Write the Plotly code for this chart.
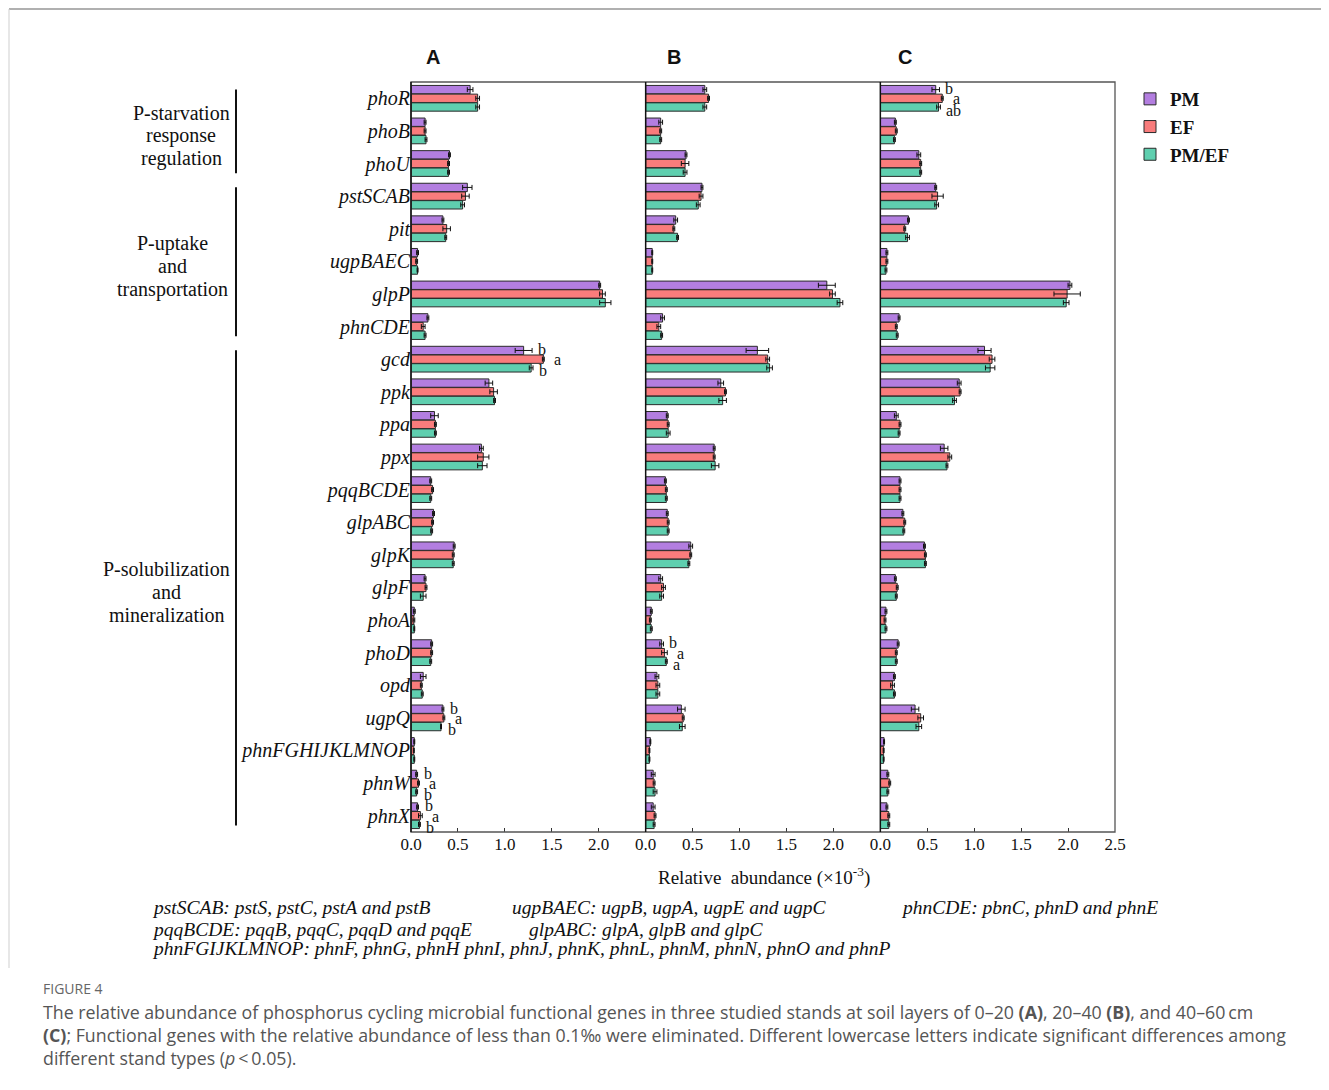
import plotly.graph_objects as go

genes = ["phoR", "phoB", "phoU", "pstSCAB", "pit", "ugpBAEC", "glpP", "phnCDE",
         "gcd", "ppk", "ppa", "ppx", "pqqBCDE", "glpABC", "glpK", "glpF", "phoA",
         "phoD", "opd", "ugpQ", "phnFGHIJKLMNOP", "phnW", "phnX"]
groups = ["PM", "EF", "PM/EF"]
panels = ["A", "B", "C"]

# Panel A (0-20 cm)
A_PM   = [0.63, 0.15, 0.41, 0.60, 0.34, 0.07, 2.01, 0.18, 1.20, 0.83, 0.25, 0.75, 0.21, 0.24, 0.46, 0.15, 0.035, 0.22, 0.13, 0.34, 0.035, 0.06, 0.07]
A_EF   = [0.71, 0.15, 0.40, 0.58, 0.38, 0.06, 2.04, 0.13, 1.41, 0.88, 0.26, 0.77, 0.23, 0.23, 0.45, 0.16, 0.03, 0.22, 0.11, 0.35, 0.03, 0.08, 0.10]
A_PMEF = [0.71, 0.16, 0.40, 0.55, 0.37, 0.07, 2.07, 0.15, 1.28, 0.89, 0.26, 0.76, 0.21, 0.22, 0.45, 0.13, 0.035, 0.21, 0.12, 0.32, 0.035, 0.06, 0.09]
A_PM_err   = [0.03, 0.01, 0.01, 0.05, 0.01, 0.01, 0.01, 0.01, 0.09, 0.04, 0.04, 0.02, 0.01, 0.01, 0.01, 0.01, 0.01, 0.01, 0.03, 0.01, 0.005, 0.01, 0.01]
A_EF_err   = [0.02, 0.01, 0.01, 0.04, 0.04, 0.01, 0.03, 0.02, 0.01, 0.04, 0.01, 0.06, 0.01, 0.01, 0.01, 0.01, 0.01, 0.01, 0.01, 0.01, 0.005, 0.01, 0.02]
A_PMEF_err = [0.02, 0.01, 0.01, 0.02, 0.01, 0.005, 0.06, 0.01, 0.02, 0.01, 0.01, 0.05, 0.01, 0.01, 0.01, 0.03, 0.005, 0.01, 0.01, 0.005, 0.005, 0.01, 0.01]

# Panel B (20-40 cm)
B_PM   = [0.63, 0.16, 0.43, 0.60, 0.32, 0.07, 1.93, 0.18, 1.19, 0.80, 0.23, 0.73, 0.21, 0.23, 0.48, 0.16, 0.06, 0.17, 0.12, 0.38, 0.05, 0.08, 0.08]
B_EF   = [0.67, 0.16, 0.42, 0.59, 0.30, 0.07, 1.99, 0.14, 1.30, 0.85, 0.24, 0.73, 0.22, 0.24, 0.48, 0.19, 0.05, 0.20, 0.13, 0.40, 0.04, 0.09, 0.10]
B_PMEF = [0.63, 0.16, 0.42, 0.56, 0.34, 0.07, 2.07, 0.17, 1.32, 0.82, 0.24, 0.74, 0.22, 0.24, 0.46, 0.17, 0.06, 0.22, 0.13, 0.39, 0.04, 0.10, 0.09]
B_PM_err   = [0.02, 0.02, 0.01, 0.01, 0.02, 0.005, 0.09, 0.02, 0.12, 0.03, 0.01, 0.01, 0.01, 0.01, 0.02, 0.02, 0.01, 0.02, 0.02, 0.04, 0.005, 0.02, 0.02]
B_EF_err   = [0.01, 0.01, 0.04, 0.02, 0.01, 0.005, 0.03, 0.02, 0.02, 0.01, 0.01, 0.01, 0.01, 0.01, 0.01, 0.02, 0.01, 0.03, 0.02, 0.01, 0.005, 0.01, 0.01]
B_PMEF_err = [0.02, 0.01, 0.02, 0.02, 0.01, 0.005, 0.03, 0.01, 0.03, 0.04, 0.02, 0.04, 0.01, 0.01, 0.01, 0.02, 0.01, 0.01, 0.02, 0.03, 0.005, 0.02, 0.01]

# Panel C (40-60 cm)
C_PM   = [0.59, 0.16, 0.41, 0.59, 0.30, 0.07, 2.02, 0.20, 1.11, 0.84, 0.17, 0.68, 0.21, 0.24, 0.47, 0.16, 0.06, 0.19, 0.15, 0.37, 0.04, 0.08, 0.07]
C_EF   = [0.66, 0.17, 0.43, 0.61, 0.26, 0.07, 1.99, 0.17, 1.19, 0.85, 0.21, 0.74, 0.21, 0.26, 0.48, 0.18, 0.05, 0.17, 0.13, 0.43, 0.035, 0.10, 0.09]
C_PMEF = [0.62, 0.15, 0.43, 0.60, 0.29, 0.06, 1.98, 0.18, 1.17, 0.79, 0.20, 0.71, 0.21, 0.25, 0.48, 0.17, 0.06, 0.17, 0.15, 0.41, 0.035, 0.08, 0.09]
C_PM_err   = [0.04, 0.01, 0.02, 0.01, 0.01, 0.01, 0.02, 0.01, 0.07, 0.02, 0.02, 0.04, 0.01, 0.01, 0.01, 0.01, 0.01, 0.01, 0.01, 0.04, 0.005, 0.01, 0.01]
C_EF_err   = [0.01, 0.01, 0.01, 0.06, 0.01, 0.01, 0.14, 0.01, 0.03, 0.01, 0.01, 0.02, 0.01, 0.01, 0.01, 0.01, 0.01, 0.01, 0.02, 0.03, 0.005, 0.01, 0.01]
C_PMEF_err = [0.02, 0.01, 0.01, 0.02, 0.02, 0.01, 0.03, 0.01, 0.05, 0.02, 0.01, 0.01, 0.01, 0.01, 0.01, 0.01, 0.01, 0.01, 0.01, 0.03, 0.005, 0.01, 0.01]

# significance letters: (panel, gene, group, letter)
sig_letters = [
    ("A", "gcd", "PM", "b"), ("A", "gcd", "EF", "a"), ("A", "gcd", "PM/EF", "b"),
    ("A", "ugpQ", "PM", "b"), ("A", "ugpQ", "EF", "a"), ("A", "ugpQ", "PM/EF", "b"),
    ("A", "phnW", "PM", "b"), ("A", "phnW", "EF", "a"), ("A", "phnW", "PM/EF", "b"),
    ("A", "phnX", "PM", "b"), ("A", "phnX", "EF", "a"), ("A", "phnX", "PM/EF", "b"),
    ("B", "phoD", "PM", "b"), ("B", "phoD", "EF", "a"), ("B", "phoD", "PM/EF", "a"),
    ("C", "phoR", "PM", "b"), ("C", "phoR", "EF", "a"), ("C", "phoR", "PM/EF", "ab"),
]

group_labels = [["P-starvation", "response", "regulation"],
                ["P-uptake", "and", "transportation"],
                ["P-solubilization", "and", "mineralization"]]
group_spans = [("phoR", "phoU"), ("pstSCAB", "phnCDE"), ("gcd", "phnX")]

footnotes = [
    "pstSCAB: pstS, pstC, pstA and pstB",
    "ugpBAEC: ugpB, ugpA, ugpE and ugpC",
    "phnCDE: pbnC, phnD and phnE",
    "pqqBCDE: pqqB, pqqC, pqqD and pqqE",
    "glpABC: glpA, glpB and glpC",
    "phnFGIJKLMNOP: phnF, phnG, phnH phnI, phnJ, phnK, phnL, phnM, phnN, phnO and phnP",
]

caption = ("The relative abundance of phosphorus cycling microbial functional genes in three studied stands at soil layers of 0\u201320 <b>(A)</b>, 20\u201340 <b>(B)</b>, and 40\u201360\u2009cm<br>"
           "<b>(C)</b>; Functional genes with the relative abundance of less than 0.1\u2030 were eliminated. Different lowercase letters indicate significant differences among<br>"
           "different stand types (<i>p</i>\u2009&lt;\u20090.05).")

data = {
    "A": [(A_PM, A_PM_err), (A_EF, A_EF_err), (A_PMEF, A_PMEF_err)],
    "B": [(B_PM, B_PM_err), (B_EF, B_EF_err), (B_PMEF, B_PMEF_err)],
    "C": [(C_PM, C_PM_err), (C_EF, C_EF_err), (C_PMEF, C_PMEF_err)],
}
colors = ["#b37ee0", "#f97c7c", "#5fcfaf"]
axis_ids = {"A": "x", "B": "x2", "C": "x3"}
SERIF = "Liberation Serif"

fig = go.Figure()
ypos = list(range(len(genes)))
for p in panels:
    for gi, g in enumerate(groups):
        vals, errs = data[p][gi]
        fig.add_trace(go.Bar(
            x=vals, y=ypos, orientation="h", name=f"<b>{g}</b>",
            marker=dict(color=colors[gi], line=dict(color="#2a2a2a", width=1)),
            error_x=dict(type="data", array=errs, visible=True, color="#111",
                         thickness=1, width=2.5),
            xaxis=axis_ids[p], yaxis="y", showlegend=(p == "A"),
        ))

# page body has an 8px margin: work in reference-screen pixels and convert
OFF = 8
FW, FH = 1329 - 2 * OFF, 1090 - 2 * OFF
PL, PR, PT, PB = 411, 1115, 82, 832  # plot area in reference-screen pixels
ML, MT = PL - OFF, PT - OFF
MR, MB = FW - (PR - OFF), FH - (PB - OFF)
PW, PH = PR - PL, PB - PT


def px2x(px):
    return (px - PL) / PW


def px2y(py):
    return (PB - py) / PH


third = 1 / 3
doms = [[0, third], [third, 2 * third], [2 * third, 1]]
tickcommon = dict(range=[0, 2.5], ticks="inside", ticklen=4, tickcolor="#333",
                  showgrid=False, zeroline=False, showline=False,
                  tickfont=dict(family=SERIF, size=17, color="#111"))
fig.update_layout(
    xaxis=dict(domain=doms[0], anchor="y", tickvals=[0, 0.5, 1, 1.5, 2],
               ticktext=["0.0", "0.5", "1.0", "1.5", "2.0"], **tickcommon),
    xaxis2=dict(domain=doms[1], anchor="y", tickvals=[0, 0.5, 1, 1.5, 2],
                ticktext=["0.0", "0.5", "1.0", "1.5", "2.0"], **tickcommon),
    xaxis3=dict(domain=doms[2], anchor="y", tickvals=[0, 0.5, 1, 1.5, 2, 2.5],
                ticktext=["0.0", "0.5", "1.0", "1.5", "2.0", "2.5"], **tickcommon),
    yaxis=dict(range=[len(genes) - 0.5, -0.5], tickvals=ypos,
               ticktext=[f"<i>{g}</i>" for g in genes], ticks="",
               showgrid=False, zeroline=False, showline=False,
               tickfont=dict(family=SERIF, size=20, color="#111")),
    barmode="group", bargap=0.2, bargroupgap=0.04,
    width=FW, height=FH,
    margin=dict(l=ML, r=MR, t=MT, b=MB),
    paper_bgcolor="white", plot_bgcolor="white",
    legend=dict(x=px2x(1130), y=px2y(80), xanchor="left", yanchor="top",
                font=dict(family=SERIF, size=19, color="#111"),
                tracegroupgap=0, itemwidth=30, bgcolor="rgba(0,0,0,0)"),
    showlegend=True,
)

shapes = []
# plot frame
shapes.append(dict(type="rect", xref="paper", yref="paper", x0=0, x1=1, y0=0, y1=1,
                   line=dict(color="#555", width=1.3)))
shapes.append(dict(type="line", xref="paper", yref="paper", x0=0, x1=0, y0=0, y1=1,
                   line=dict(color="#111", width=1.5)))
for d in [third, 2 * third]:
    shapes.append(dict(type="line", xref="paper", yref="paper", x0=d, x1=d, y0=0, y1=1,
                       line=dict(color="#111", width=1.5)))
# group brackets
for (g0, g1) in group_spans:
    i0, i1 = genes.index(g0), genes.index(g1)
    shapes.append(dict(type="line", xref="paper", yref="y", x0=px2x(236), x1=px2x(236),
                       y0=i0 - 0.27, y1=i1 + 0.3, line=dict(color="#111", width=2)))
# page decoration lines
shapes.append(dict(type="line", xref="paper", yref="paper", x0=px2x(9), x1=px2x(1329),
                   y0=px2y(9), y1=px2y(9), line=dict(color="#b0b0b0", width=2)))
shapes.append(dict(type="line", xref="paper", yref="paper", x0=px2x(9), x1=px2x(9),
                   y0=px2y(9), y1=px2y(968), line=dict(color="#cfcfcf", width=1)))
fig.update_layout(shapes=shapes)

ann = []
# panel letters
for p, xp in zip(panels, [433, 674, 905]):
    ann.append(dict(text=f"<b>{p}</b>", xref="paper", yref="paper", x=px2x(xp), y=px2y(57),
                    xanchor="center", yanchor="middle", showarrow=False,
                    font=dict(family="Liberation Sans Narrow, Liberation Sans", size=20, color="#111")))
# significance letters
offs = {"PM": -0.3, "EF": 0.02, "PM/EF": 0.36}
xsh = {"PM": 4, "EF": 8, "PM/EF": 4}
for (p, gname, grp, letter) in sig_letters:
    gi = groups.index(grp)
    i = genes.index(gname)
    vals, errs = data[p][gi]
    ann.append(dict(text=letter, xref=axis_ids[p], yref="y", x=vals[i] + errs[i], y=i + offs[grp],
                    xanchor="left", yanchor="middle", xshift=xsh[grp], showarrow=False,
                    font=dict(family=SERIF, size=16, color="#111")))
# group labels (one annotation per line, 23 px apart, centred on the block)
label_cx = [181, 172, 167]
for lines, (g0, g1), cx in zip(group_labels, group_spans, label_cx):
    yc = (genes.index(g0) + genes.index(g1)) / 2 + 0.15
    for k, line in enumerate(lines):
        ann.append(dict(text=line, xref="paper", yref="y", x=px2x(cx), y=yc, xanchor="center",
                        yanchor="middle", align="center", showarrow=False, yshift=-23 * (k - 1),
                        font=dict(family=SERIF, size=20, color="#111")))
# x title
ann.append(dict(text="Relative  abundance (\u00d710<sup>-3</sup>)", xref="paper", yref="paper",
                x=px2x(764), y=px2y(876), xanchor="center", yanchor="middle", showarrow=False,
                font=dict(family=SERIF, size=19, color="#111")))
# footnotes
fn_pos = [(150, 907), (510, 907), (899, 907), (150, 929), (527, 929), (150, 949)]
for s, (fx, fy) in zip(footnotes, fn_pos):
    ann.append(dict(text=f"<i>{s}</i>", xref="paper", yref="paper", x=px2x(fx), y=px2y(fy),
                    xanchor="left", yanchor="middle", showarrow=False,
                    font=dict(family=SERIF, size=19.5, color="#111")))
# figure caption
ann.append(dict(text="FIGURE 4", xref="paper", yref="paper", x=px2x(41), y=px2y(988),
                xanchor="left", yanchor="middle", showarrow=False,
                font=dict(family="Open Sans", size=14, color="#666")))
ann.append(dict(text=caption, xref="paper", yref="paper", x=px2x(41), y=px2y(998),
                xanchor="left", yanchor="top", align="left", showarrow=False,
                font=dict(family="Open Sans", size=17.8, color="#555")))
fig.update_layout(annotations=ann)

fig.write_html("out.html")
